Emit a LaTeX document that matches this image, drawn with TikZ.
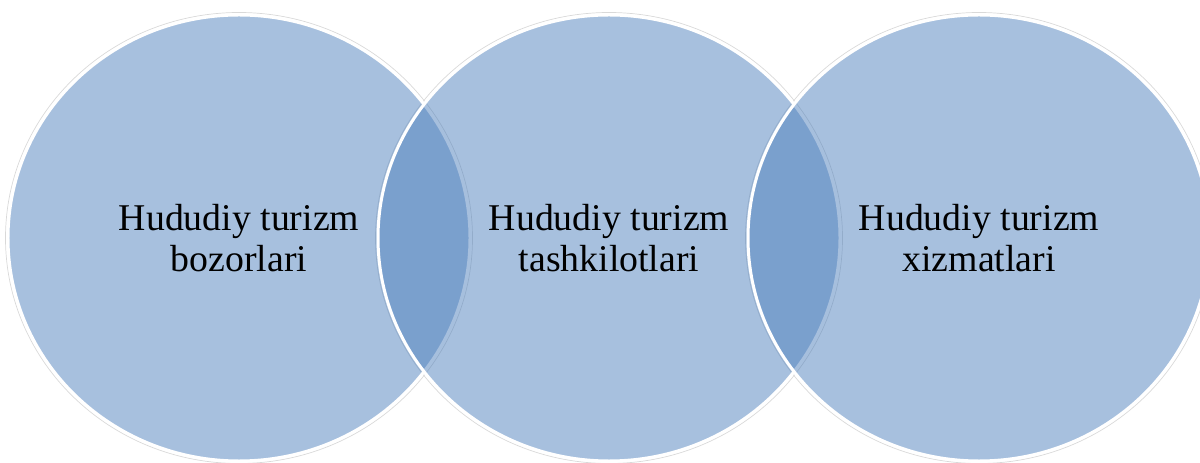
\documentclass[tikz,border=0pt]{standalone}
\usepackage{fontspec}
\setmainfont{Liberation Serif}
\usetikzlibrary{shapes.geometric,backgrounds}
\definecolor{setblue}{HTML}{4F81BD}
\begin{document}
\begin{tikzpicture}[
    venn/.style={ellipse, fill=setblue, fill opacity=0.5, text opacity=1,
      draw=white, line width=1.7pt, minimum width=9.24cm, minimum height=8.92cm,
      align=center, font=\fontsize{21.5}{23.3}\selectfont},
    rim/.style={draw=black!15, line width=0.4pt}]
    \def\x{7.4}
    \def\y{4.48}
    \clip (0,0) rectangle (24,9.24);
    \node [venn] (S0) at (4.78+0*\x, \y) {Hududiy turizm\\bozorlari};
    \node [venn] (S1) at (4.78+1*\x, \y) {Hududiy turizm\\tashkilotlari};
    \node [venn] (S2) at (4.78+2*\x, \y) {Hududiy turizm\\xizmatlari};
    % faint outer rims
    \begin{scope}[on background layer]
      \draw [rim] (S0.center) ellipse (4.67 and 4.51);
      \draw [rim] (S1.center) ellipse (4.67 and 4.51);
      \draw [rim] (S2.center) ellipse (4.67 and 4.51);
    \end{scope}
\end{tikzpicture}
\end{document}
